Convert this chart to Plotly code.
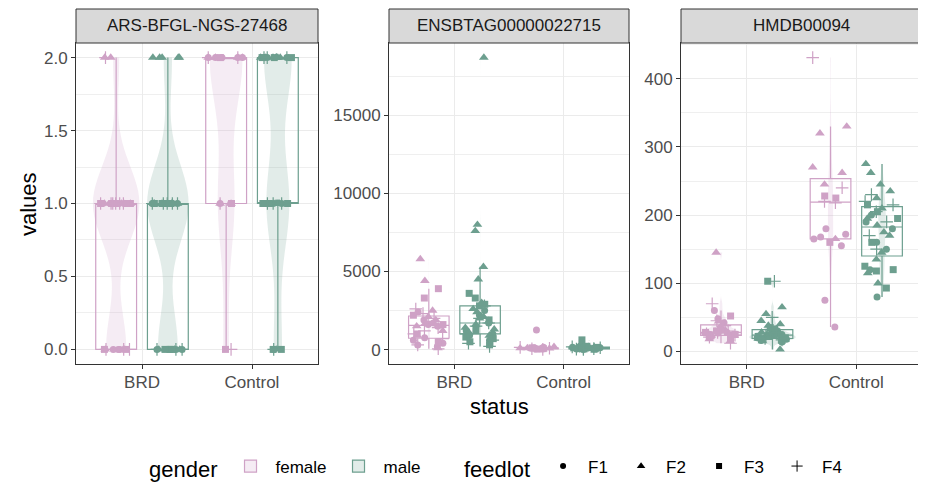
import numpy as np
import plotly.graph_objects as go

# ---------------- data ----------------
PANELS = ["ARS-BFGL-NGS-27468", "ENSBTAG00000022715", "HMDB00094"]
STATUS = ["BRD", "Control"]
GENDERS = ["female", "male"]
FEEDLOTS = ["F1", "F2", "F3", "F4"]

# feedlot of each animal, per status/gender group
feedlot_brd_female = ["F1", "F1", "F1", "F1", "F1", "F1", "F1", "F1", "F1", "F1",
                      "F2", "F2", "F2", "F2", "F2", "F2", "F2", "F2", "F2", "F2",
                      "F3", "F3", "F3", "F3", "F3", "F3",
                      "F4", "F4", "F4", "F4", "F4", "F4", "F4", "F4", "F4", "F4"]
feedlot_brd_male = ["F1", "F1", "F1", "F1", "F1", "F1", "F1", "F1",
                    "F2", "F2", "F2", "F2", "F2", "F2", "F2", "F2", "F2", "F2", "F2", "F2", "F2", "F2", "F2", "F2",
                    "F3", "F3", "F3", "F3", "F3", "F3", "F3", "F3", "F3", "F3",
                    "F4", "F4", "F4", "F4", "F4", "F4", "F4", "F4"]
feedlot_ctl_female = ["F1", "F1", "F1", "F1", "F1", "F1", "F1",
                      "F2", "F2", "F2", "F2", "F2", "F2",
                      "F3", "F3", "F3",
                      "F4", "F4", "F4", "F4"]
feedlot_ctl_male = ["F1", "F1", "F1", "F1", "F1", "F1", "F1",
                    "F2", "F2", "F2", "F2", "F2", "F2", "F2", "F2", "F2", "F2", "F2", "F2", "F2", "F2",
                    "F3", "F3", "F3", "F3", "F3", "F3", "F3", "F3",
                    "F4", "F4", "F4", "F4", "F4", "F4", "F4"]

# ARS-BFGL-NGS-27468 (genotype 0/1/2)
ars_brd_female = [1, 1, 0, 1, 1, 0, 1, 1, 0, 1, 2, 1, 1, 0, 1, 1, 2, 1, 0, 1,
                  1, 0, 1, 1, 1, 0, 2, 1, 1, 0, 1, 1, 0, 1, 1, 0]
ars_brd_male = [1, 0, 1, 1, 0, 1, 1, 0, 2, 2, 2, 1, 1, 0, 1, 1, 2, 1, 0, 1, 1, 2, 0, 1,
                1, 0, 1, 1, 0, 1, 1, 0, 1, 1, 0, 1, 1, 0, 1, 1, 1, 0]
ars_ctl_female = [2, 2, 1, 2, 2, 1, 2, 2, 2, 1, 2, 2, 1, 0, 2, 1, 0, 2, 2, 1]
ars_ctl_male = [2, 1, 2, 1, 2, 0, 1, 2, 2, 1, 2, 1, 2, 2, 1, 0, 2, 1, 2, 1, 2,
                1, 2, 0, 1, 2, 1, 2, 0, 2, 1, 2, 0, 1, 2, 1]

# ENSBTAG00000022715
ens_brd_female = [1600, 600, 1900, 400, 1500, 750, 300, 2400, 200, 1700,
                  5800, 4400, 2500, 1900, 1500, 1200, 2100, 900, 1700, 100,
                  3900, 3300, 2200, 1600, 1000, 500,
                  2600, 1800, 1400, 2000, 700, 300, 1200, 2300, 1000, 50]
ens_brd_male = [1200, 900, 1700, 2200, 600, 1500, 2500, 1000,
                18700, 8000, 7600, 5300, 4500, 2400, 3000, 2000, 1800, 1600, 1400, 1300, 2100, 900, 2600, 1100,
                3600, 3300, 2800, 1900, 1200, 800, 500, 300, 2900, 700,
                2800, 1500, 1000, 400, 200, 1700, 600, 2000]
ens_ctl_female = [1250, 80, 50, 120, 30, 60, 150, 100, 40, 70, 20, 180, 90,
                  60, 110, 30, 50, 140, 10, 80]
ens_ctl_male = [50, 120, 30, 200, 80, 10, 150,
                100, 60, 250, 40, 180, 20, 90, 130, 70, 300, 30, 110, 160, 50,
                620, 80, 140, 40, 210, 100, 60, 20,
                90, 30, 170, 60, 120, 10, 220]

# HMDB00094
hmdb_brd_female = [60, 28, 25, 42, 22, 35, 27, 48, 20, 24,
                   145, 40, 33, 26, 18, 29, 44, 23, 15, 31,
                   28, 52, 22, 30, 25, 19,
                   70, 45, 30, 26, 21, 34, 12, 28, 38, 24]
hmdb_brd_male = [22, 18, 25, 30, 16, 20, 28, 14,
                 65, 55, 45, 38, 32, 28, 24, 22, 20, 19, 17, 15, 25, 3, 40, 21,
                 103, 35, 30, 26, 22, 20, 18, 24, 16, 33,
                 103, 50, 28, 23, 19, 21, 17, 26]
hmdb_ctl_female = [180, 172, 168, 155, 75, 36, 165,
                   330, 320, 270, 262, 245, 165,
                   228, 160, 225,
                   431, 220, 218, 240]
hmdb_ctl_male = [180, 160, 150, 80, 200, 120, 190,
                 275, 262, 245, 235, 185, 175, 170, 145, 115, 100, 225, 210, 195, 135,
                 205, 195, 125, 120, 118, 93, 160, 215,
                 215, 205, 220, 150, 190, 170, 230]

Y_TICK_STEP = [0.5, 5000, 100]
Y_TICK_FORMAT = [".1f", "d", "d"]

# ---------------- assembly ----------------
feedlots = {("BRD", "female"): feedlot_brd_female, ("BRD", "male"): feedlot_brd_male,
            ("Control", "female"): feedlot_ctl_female, ("Control", "male"): feedlot_ctl_male}
values = {
    PANELS[0]: {("BRD", "female"): ars_brd_female, ("BRD", "male"): ars_brd_male,
                ("Control", "female"): ars_ctl_female, ("Control", "male"): ars_ctl_male},
    PANELS[1]: {("BRD", "female"): ens_brd_female, ("BRD", "male"): ens_brd_male,
                ("Control", "female"): ens_ctl_female, ("Control", "male"): ens_ctl_male},
    PANELS[2]: {("BRD", "female"): hmdb_brd_female, ("BRD", "male"): hmdb_brd_male,
                ("Control", "female"): hmdb_ctl_female, ("Control", "male"): hmdb_ctl_male},
}

LINE = {"female": "#CFA2C6", "male": "#6D9F8F"}
FILL = {"female": "rgba(207,162,198,0.2)", "male": "rgba(109,159,143,0.2)"}
SYMBOL = {"F1": "circle", "F2": "triangle-up", "F3": "square", "F4": "cross-thin"}
SIZE = {"F1": 7, "F2": 8.5, "F3": 7, "F4": 9}

# the page body keeps the browser's default 8px margin: size the figure to the
# visible window area and express window-pixel positions relative to it
OFF = 8
WIN_W, WIN_H = 926, 482
W, H = WIN_W - OFF, WIN_H - OFF


def px_x(X):
    return (X - OFF) / W


def px_y(Y):
    return 1 - (Y - OFF) / H


def nrd0(v):
    """Silverman's rule of thumb (R's bw.nrd0) for the violin kernel."""
    a = np.asarray(v, dtype=float)
    sd = a.std(ddof=1)
    iqr = np.percentile(a, 75) - np.percentile(a, 25)
    lo = min(sd, iqr / 1.34) if iqr > 0 else sd
    if lo <= 0:
        lo = abs(a[0]) if a[0] != 0 else 1.0
    return 0.9 * lo * len(a) ** -0.2


X_DOM = [(px_x(76), px_x(318)), (px_x(389), px_x(629)), (px_x(681), px_x(922))]
Y_DOM = (px_y(364), px_y(43))
STRIP_TOP = px_y(9)
FONT = "Liberation Sans, Arial, sans-serif"

fig = go.Figure()
violins, boxes, points = [], [], []
for pi, panel in enumerate(PANELS):
    xa = "x" if pi == 0 else f"x{pi + 1}"
    ya = "y" if pi == 0 else f"y{pi + 1}"
    for g in GENDERS:
        xs, ys = [], []
        for s in STATUS:
            v = values[panel][(s, g)]
            xs += [s] * len(v)
            ys += v
            violins.append(go.Violin(
                x=[s] * len(v), y=v, xaxis=xa, yaxis=ya, offsetgroup=g, name=g,
                fillcolor=FILL[g], line=dict(width=0, color=LINE[g]),
                spanmode="hard", scalegroup=panel, scalemode="width", bandwidth=nrd0(v),
                points=False, showlegend=False, hoverinfo="skip"))
        boxes.append(go.Box(
            x=xs, y=ys, xaxis=xa, yaxis=ya, offsetgroup=g, name=g,
            boxpoints="outliers", pointpos=0, marker=dict(opacity=0, size=1),
            fillcolor="rgba(0,0,0,0)", whiskerwidth=0,
            line=dict(color=LINE[g], width=1.2), showlegend=False, hoverinfo="skip"))
        for f in FEEDLOTS:
            px, py = [], []
            for s in STATUS:
                for val, fl in zip(values[panel][(s, g)], feedlots[(s, g)]):
                    if fl == f:
                        px.append(s)
                        py.append(val)
            points.append(go.Box(
                x=px, y=py, xaxis=xa, yaxis=ya, offsetgroup=g, name=f"{g} {f}",
                boxpoints="all", jitter=0.9, pointpos=0,
                fillcolor="rgba(0,0,0,0)", line=dict(width=0, color=LINE[g]),
                marker=dict(symbol=SYMBOL[f], size=SIZE[f], color=LINE[g],
                            line=dict(width=1.2 if f == "F4" else 0, color=LINE[g])),
                showlegend=False, hoverinfo="skip"))

for t in violins + boxes + points:
    fig.add_trace(t)

# legend entries
for g in GENDERS:
    fig.add_trace(go.Box(x=[None], y=[None], name=g, offsetgroup=g, legend="legend",
                         fillcolor=FILL[g], line=dict(color=LINE[g], width=1.2),
                         boxpoints=False, showlegend=True))
for f in FEEDLOTS:
    fig.add_trace(go.Scatter(x=[None], y=[None], mode="markers", name=f, legend="legend2",
                             marker=dict(symbol=SYMBOL[f], size=SIZE[f] - 1, color="black",
                                         line=dict(width=1 if f == "F4" else 0, color="black")),
                             showlegend=True))

shapes, annotations = [], []
for pi, panel in enumerate(PANELS):
    allv = [v for key in values[panel] for v in values[panel][key]]
    lo, hi = min(allv), max(allv)
    pad = 0.05 * (hi - lo)
    sfx = "" if pi == 0 else str(pi + 1)
    axis_common = dict(showline=True, mirror=True, linecolor="#333333", linewidth=1,
                       ticks="outside", ticklen=4, tickcolor="#333333", tickwidth=1,
                       tickfont=dict(size=17, color="#4D4D4D", family=FONT),
                       showgrid=True, gridcolor="#EBEBEB", gridwidth=1.2, zeroline=False,
                       automargin=False)
    fig.update_layout(**{
        f"xaxis{sfx}": dict(domain=list(X_DOM[pi]), anchor=f"y{sfx}", type="category",
                             categoryorder="array", categoryarray=STATUS,
                             range=[-0.6, 1.6], ticklabelstandoff=-1, **axis_common),
        f"yaxis{sfx}": dict(domain=list(Y_DOM), anchor=f"x{sfx}", range=[lo - pad, hi + pad],
                             dtick=Y_TICK_STEP[pi], tick0=0, tickformat=Y_TICK_FORMAT[pi],
                             minor=dict(dtick=Y_TICK_STEP[pi] / 2, showgrid=True,
                                        gridcolor="#EFEFEF", gridwidth=0.6),
                             **axis_common),
    })
    shapes.append(dict(type="rect", xref="paper", yref="paper",
                       x0=X_DOM[pi][0], x1=X_DOM[pi][1], y0=Y_DOM[1], y1=STRIP_TOP,
                       fillcolor="#D9D9D9", line=dict(color="#333333", width=1)))
    annotations.append(dict(text=panel, xref="paper", yref="paper",
                            x=(X_DOM[pi][0] + X_DOM[pi][1]) / 2, y=(Y_DOM[1] + STRIP_TOP) / 2,
                            showarrow=False, xanchor="center", yanchor="middle",
                            font=dict(size=17, color="#1A1A1A", family=FONT)))

annotations.append(dict(text="values", xref="paper", yref="paper", x=px_x(28), y=px_y(204),
                        textangle=-90, showarrow=False, xanchor="center", yanchor="middle",
                        font=dict(size=22, color="black", family=FONT)))
annotations.append(dict(text="status", xref="paper", yref="paper", x=px_x(499), y=px_y(406),
                        showarrow=False, xanchor="center", yanchor="middle",
                        font=dict(size=22, color="black", family=FONT)))

fig.update_layout(
    width=W, height=H, margin=dict(l=0, r=0, t=0, b=0, autoexpand=False),
    paper_bgcolor="white", plot_bgcolor="white",
    font=dict(family=FONT),
    boxmode="group", violinmode="group",
    boxgap=0.06, boxgroupgap=0.21, violingap=0.06, violingroupgap=0.1,
    shapes=shapes, annotations=annotations,
    legend=dict(orientation="h", xref="container", yref="container",
                x=px_x(147), y=px_y(468), xanchor="left", yanchor="middle",
                entrywidth=53, itemwidth=40,
                title=dict(text="gender", side="left", font=dict(size=22, color="black")),
                font=dict(size=17, color="black"), bgcolor="rgba(0,0,0,0)"),
    legend2=dict(orientation="h", xref="container", yref="container",
                 x=px_x(462), y=px_y(468), xanchor="left", yanchor="middle",
                 entrywidth=23, itemwidth=40,
                 title=dict(text="feedlot", side="left", font=dict(size=22, color="black")),
                 font=dict(size=17, color="black"), bgcolor="rgba(0,0,0,0)"),
)

fig.write_html("out.html")
